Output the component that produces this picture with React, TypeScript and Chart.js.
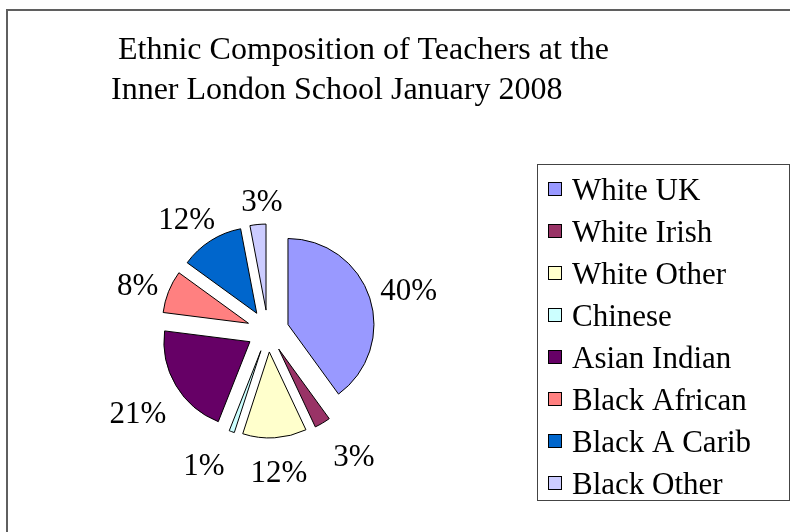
import React, { useEffect, useRef } from 'react';
import { Chart, registerables } from 'chart.js';

Chart.register(...registerables);

const TITLE_LINES = ['Ethnic Composition of Teachers at the', 'Inner London School January 2008'];
const CATEGORIES = ['White UK', 'White Irish', 'White Other', 'Chinese', 'Asian Indian', 'Black African', 'Black A Carib', 'Black Other'];
const VALUES = [40, 3, 12, 1, 21, 8, 12, 3];
const COLORS = ['#9999FF', '#993366', '#FFFFCC', '#CCFFFF', '#660066', '#FF8080', '#0066CC', '#CCCCFF'];

const FONT = '"Liberation Serif", "Times New Roman", serif';
const EXPLODE = 21;
const RADIUS = 86;

const explodePlugin = {
  id: 'explodePie',
  beforeDatasetsDraw(chart: any) {
    const meta = chart.getDatasetMeta(0);
    const area = chart.chartArea;
    const cx = (area.left + area.right) / 2;
    const cy = (area.top + area.bottom) / 2;
    meta.data.forEach((arc: any) => {
      const mid = (arc.startAngle + arc.endAngle) / 2;
      arc.x = cx + Math.cos(mid) * EXPLODE;
      arc.y = cy + Math.sin(mid) * EXPLODE;
    });
  },
};

const decorPlugin = {
  id: 'decor',
  afterDraw(chart: any) {
    const ctx = chart.ctx as CanvasRenderingContext2D;
    ctx.save();
    // outer frame
    ctx.strokeStyle = '#5f5f5f';
    ctx.lineWidth = 2;
    ctx.beginPath();
    ctx.moveTo(7, 900);
    ctx.lineTo(7, 10);
    ctx.lineTo(900, 10);
    ctx.stroke();

    // title
    ctx.fillStyle = '#000';
    ctx.textAlign = 'left';
    ctx.textBaseline = 'alphabetic';
    ctx.font = `32px ${FONT}`;
    ctx.fillText(TITLE_LINES[0], 118, 59);
    ctx.fillText(TITLE_LINES[1], 111, 99);

    // percentage labels (outside end, with simple overlap avoidance)
    const meta = chart.getDatasetMeta(0);
    const total = VALUES.reduce((a, b) => a + b, 0);
    ctx.font = `31px ${FONT}`;
    const TH = 22;
    const pos = meta.data.map((arc: any, i: number) => {
      const label = Math.round((VALUES[i] / total) * 100) + '%';
      const mid = (arc.startAngle + arc.endAngle) / 2;
      const dx = Math.cos(mid);
      const dy = Math.sin(mid);
      const w = ctx.measureText(label).width;
      const tx = Math.abs(dx) > 1e-6 ? w / 2 / Math.abs(dx) : Infinity;
      const ty = Math.abs(dy) > 1e-6 ? 18 / Math.abs(dy) : Infinity;
      const t = Math.min(tx, ty);
      const d = arc.outerRadius + 11 + t;
      return { label, w, x: arc.x + dx * d, y: arc.y + dy * d + 7 };
    });
    const GAP = 26;
    for (let iter = 0; iter < 20; iter++) {
      for (let i = 0; i < pos.length; i++) {
        const a = pos[i];
        const b = pos[(i + 1) % pos.length];
        if (Math.abs(a.y - b.y) >= TH) continue;
        const left = a.x <= b.x ? a : b;
        const right = left === a ? b : a;
        const gap = right.x - right.w / 2 - (left.x + left.w / 2);
        if (gap < GAP) {
          const push = (GAP - gap) / 2;
          left.x -= push;
          right.x += push;
        }
      }
    }
    ctx.fillStyle = '#000';
    ctx.textAlign = 'center';
    ctx.textBaseline = 'middle';
    pos.forEach((p: any) => ctx.fillText(p.label, p.x, p.y));

    // legend box
    ctx.strokeStyle = '#444';
    ctx.lineWidth = 1;
    ctx.strokeRect(537.5, 164.5, 252, 336);
    ctx.font = `31px ${FONT}`;
    ctx.textAlign = 'left';
    ctx.textBaseline = 'alphabetic';
    CATEGORIES.forEach((name, i) => {
      const base = 200 + i * 42;
      ctx.fillStyle = COLORS[i];
      ctx.fillRect(548, base - 18, 14, 14);
      ctx.strokeStyle = '#000';
      ctx.strokeRect(548.5, base - 17.5, 13, 13);
      ctx.fillStyle = '#000';
      ctx.fillText(name, 572, base);
    });
    ctx.restore();
  },
};

export default function App() {
  const ref = useRef<HTMLCanvasElement>(null);
  useEffect(() => {
    if (!ref.current) return;
    const chart = new Chart(ref.current, {
      type: 'pie',
      data: {
        labels: CATEGORIES,
        datasets: [
          {
            data: VALUES,
            backgroundColor: COLORS,
            borderColor: '#000',
            borderWidth: 1,
            radius: RADIUS,
          } as any,
        ],
      },
      options: {
        responsive: false,
        animation: false,
        events: [],
        layout: { padding: { left: 100, right: 354, top: 180, bottom: 50 } },
        plugins: {
          legend: { display: false },
          title: { display: false },
          tooltip: { enabled: false },
        },
      },
      plugins: [explodePlugin, decorPlugin],
    });
    return () => chart.destroy();
  }, []);
  return (
    <div style={{ position: 'absolute', left: 0, top: 0, width: 790, height: 532, background: '#fff' }}>
      <canvas ref={ref} width={790} height={532} style={{ display: 'block' }} />
    </div>
  );
}
